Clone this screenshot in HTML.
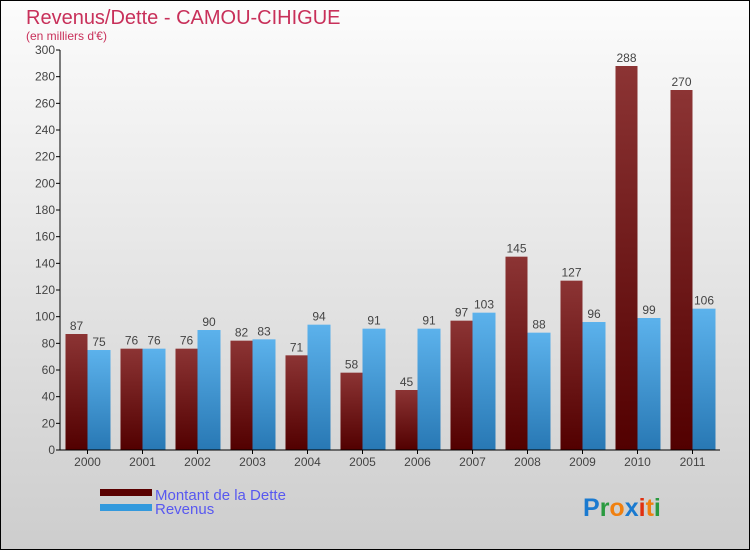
<!DOCTYPE html>
<html><head><meta charset="utf-8"><style>
body{margin:0}
svg{display:block;font-family:"Liberation Sans",sans-serif}
</style></head><body>
<svg id="c" width="750" height="550" xmlns="http://www.w3.org/2000/svg">
<defs>
<linearGradient id="bg" x1="0" y1="0" x2="0" y2="1"><stop offset="0" stop-color="#fcfcfc"/><stop offset="1" stop-color="#cdcdcd"/></linearGradient>
<linearGradient id="gd" x1="0" y1="0" x2="0" y2="1"><stop offset="0" stop-color="#8c3434"/><stop offset="1" stop-color="#520000"/></linearGradient>
<linearGradient id="gr" x1="0" y1="0" x2="0" y2="1"><stop offset="0" stop-color="#5cb2ec"/><stop offset="1" stop-color="#2878b4"/></linearGradient>
</defs>
<rect x="0.5" y="0.5" width="749" height="549" fill="url(#bg)" stroke="#000"/>
<text x="26" y="24" font-size="20" fill="#c8305a">Revenus/Dette - CAMOU-CIHIGUE</text>
<text x="26" y="40" font-size="12" fill="#c8305a">(en milliers d'€)</text>
<g id="plot"></g>
<rect x="100" y="489" width="52" height="7" fill="#5a0000"/>
<text x="155" y="500" font-size="15" fill="#5858f0">Montant de la Dette</text>
<rect x="100" y="504" width="52" height="7" fill="#3399dd"/>
<text x="155" y="514" font-size="15" fill="#5858f0">Revenus</text>
<text x="583" y="516" font-size="25" font-weight="bold"><tspan fill="#1a7ad0">P</tspan><tspan fill="#2a9a40">r</tspan><tspan fill="#f08010">o</tspan><tspan fill="#1a7ad0">x</tspan><tspan fill="#e03010">i</tspan><tspan fill="#f08010">t</tspan><tspan fill="#2a9a40">i</tspan></text>
</svg>
<script>
const years=["2000","2001","2002","2003","2004","2005","2006","2007","2008","2009","2010","2011"];
const dette=[87,76,76,82,71,58,45,97,145,127,288,270];
const revenus=[75,76,90,83,94,91,91,103,88,96,99,106];
const yTicks=[0,20,40,60,80,100,120,140,160,180,200,220,240,260,280,300];
const NS="http://www.w3.org/2000/svg";
const g=document.getElementById('plot');
const x0=60,x1=720,yB=450,yT=50,yMax=300;
const step=(x1-x0)/years.length;
const Y=v=>yB-(v/yMax)*(yB-yT);
const X=i=>x0+step*i+step/2;
function mk(t,a){const e=document.createElementNS(NS,t);for(const k in a)e.setAttribute(k,a[k]);g.appendChild(e);return e;}
yTicks.forEach(v=>{
  const l=mk('line',{x1:x0-4,x2:x0,y1:Y(v),y2:Y(v),stroke:'#000'});
  
  
  const t=mk('text',{x:x0-5,y:Y(v)+4,'text-anchor':'end','font-size':12,fill:'#444'});
  t.textContent=v;
  
  
});
years.forEach((yr,i)=>{
  const c=X(i);
  const bd=mk('rect',{x:c-22,y:Y(dette[i]),width:22,height:yB-Y(dette[i]),fill:'url(#gd)'});
  
  
  const br=mk('rect',{x:c,y:Y(revenus[i]),width:23,height:yB-Y(revenus[i]),fill:'url(#gr)'});
  
  
  const ld=mk('text',{x:c-11,y:Y(dette[i])-4,'text-anchor':'middle','font-size':12,fill:'#444'});
  ld.textContent=dette[i];
  
  
  const lr=mk('text',{x:c+11.5,y:Y(revenus[i])-4,'text-anchor':'middle','font-size':12,fill:'#444'});
  lr.textContent=revenus[i];
  
  
  const tk=mk('line',{x1:c,x2:c,y1:yB,y2:yB+4,stroke:'#000'});
  
  
  const xl=mk('text',{x:c,y:yB+16,'text-anchor':'middle','font-size':12,fill:'#444'});
  xl.textContent=yr;
  
  
});
const ya=mk('line',{x1:x0,x2:x0,y1:yT,y2:yB,stroke:'#000'});


const xa=mk('line',{x1:x0,x2:x1,y1:yB,y2:yB,stroke:'#000'});


</script>
</body></html>
